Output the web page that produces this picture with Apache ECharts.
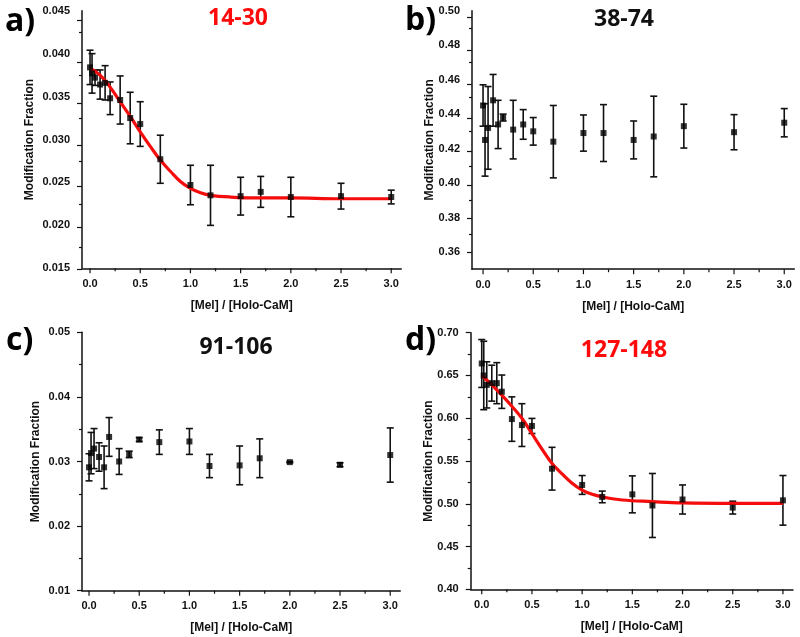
<!DOCTYPE html>
<html>
<head>
<meta charset="utf-8">
<script src="https://cdn.jsdelivr.net/npm/echarts@6/dist/echarts.min.js"></script>
<style>html,body{margin:0;background:#fff}#chart{width:800px;height:637px}</style>
</head>
<body>
<div id="chart"></div>
<script>
// [Mel]/[Holo-CaM] ratios, same for all four peptides
var ratios = [0, 0.02, 0.05, 0.1, 0.15, 0.2, 0.3, 0.4, 0.5, 0.7, 1.0, 1.2, 1.5, 1.7, 2.0, 2.5, 3.0];

// a) 14-30
var fracA = [0.0384, 0.0377, 0.0372, 0.0364, 0.0366, 0.0348, 0.0346, 0.0325, 0.0318, 0.0277, 0.0247, 0.0235, 0.0234, 0.0239, 0.0233, 0.0234, 0.0233];
var errA  = [0.0020, 0.0023, 0.0009, 0.0017, 0.0020, 0.0019, 0.0028, 0.0030, 0.0026, 0.0028, 0.0023, 0.0035, 0.0022, 0.0018, 0.0023, 0.0015, 0.0008];
// b) 38-74
var fracB = [0.445, 0.425, 0.432, 0.448, 0.434, 0.438, 0.431, 0.434, 0.430, 0.424, 0.429, 0.429, 0.425, 0.427, 0.433, 0.4295, 0.435];
var errB  = [0.012, 0.021, 0.024, 0.015, 0.014, 0.002, 0.017, 0.0086, 0.008, 0.021, 0.0105, 0.0165, 0.011, 0.0234, 0.0127, 0.0102, 0.0082];
// c) 91-106
var fracC = [0.0291, 0.0313, 0.0320, 0.0307, 0.0291, 0.0338, 0.0300, 0.0311, 0.0334, 0.0330, 0.0331, 0.0293, 0.0294, 0.0305, 0.0299, 0.0295, 0.0310];
var errC  = [0.0021, 0.0032, 0.0031, 0.0022, 0.0033, 0.0030, 0.0020, 0.0005, 0.0003, 0.0019, 0.0020, 0.0018, 0.0030, 0.0030, 0.0001, 0.0003, 0.0042];
// d) 127-148
var fracD = [0.664, 0.650, 0.639, 0.641, 0.641, 0.631, 0.599, 0.592, 0.591, 0.541, 0.522, 0.508, 0.511, 0.498, 0.505, 0.4955, 0.504];
var errD  = [0.028, 0.040, 0.027, 0.021, 0.024, 0.0195, 0.026, 0.025, 0.0088, 0.025, 0.011, 0.0068, 0.0216, 0.0374, 0.017, 0.0075, 0.029];

// fitted curves
var fitX = [0, 0.1, 0.2, 0.3, 0.4, 0.5, 0.6, 0.7, 0.8, 0.9, 1.0, 1.1, 1.2, 1.4, 1.7, 2.0, 2.5, 3.0];
var fitA = [0.0383, 0.0375, 0.0361, 0.0344, 0.0327, 0.0309, 0.0292, 0.0276, 0.0263, 0.0251, 0.0243, 0.0238, 0.0235, 0.0233, 0.0232, 0.0232, 0.0231, 0.0231];
var fitD = [0.650, 0.639, 0.627, 0.614, 0.600, 0.582, 0.564, 0.547, 0.535, 0.524, 0.516, 0.511, 0.508, 0.5044, 0.5025, 0.501, 0.5005, 0.5005];

// tick labels
var xMajor = [0, 0.5, 1.0, 1.5, 2.0, 2.5, 3.0];
var xMinor = [0.25, 0.75, 1.25, 1.75, 2.25, 2.75];
var yTicksA = [0.015, 0.045, 0.005]; // first, last, step
var yTicksB = [0.36, 0.50, 0.02];
var yTicksC = [0.01, 0.05, 0.01];
var yTicksD = [0.40, 0.70, 0.05];

var PX = 100.4; // pixels per x unit
var panels = [
  {letter: 'a)', title: '14-30', red: true, y: fracA, e: errA, fit: fitA, ymin: 0.015, ymax: 0.045, yt: yTicksA, dec: 3,
   left: 82, top: 10.7, height: 257.6, xmin: -0.08, nameGap: 46, lx: 5, ly: 24, tx: 238, ty: 18},
  {letter: 'b)', title: '38-74', red: false, y: fracB, e: errB, fit: null, ymin: 0.35, ymax: 0.50, yt: yTicksB, dec: 2,
   left: 472, top: 10.7, height: 258.5, xmin: -0.11, nameGap: 36, lx: 405, ly: 23, tx: 624, ty: 19},
  {letter: 'c)', title: '91-106', red: false, y: fracC, e: errC, fit: null, ymin: 0.01, ymax: 0.05, yt: yTicksC, dec: 2,
   left: 82, top: 332.3, height: 258.4, xmin: -0.07, nameGap: 40, lx: 6, ly: 343, tx: 236, ty: 347},
  {letter: 'd)', title: '127-148', red: true, y: fracD, e: errD, fit: fitD, ymin: 0.40, ymax: 0.70, yt: yTicksD, dec: 2,
   left: 470.7, top: 332.7, height: 256.6, xmin: -0.11, nameGap: 36, lx: 405, ly: 343, tx: 624, ty: 350}
];

var ink = '#111';
var fam = 'Liberation Sans';
var grids = [], xAxes = [], yAxes = [], series = [], graphics = [];

function labelAxis(gi, lo, hi, step, dec) {
  return {
    type: 'value', gridIndex: gi, position: 'left', min: lo, max: hi, interval: step,
    axisLine: {show: false}, axisTick: {show: false}, splitLine: {show: false},
    axisLabel: {show: true, margin: 7, fontFamily: fam, fontWeight: 'bold', fontSize: 11, color: ink,
                formatter: function (v) { return v.toFixed(dec); }}
  };
}
// y tick marks: minor split lines of a thin strip left of the axis
function yTickAxis(gi, lo, hi, step) {
  return {
    type: 'value', gridIndex: gi, position: 'left', min: lo, max: hi, interval: step,
    axisLine: {show: false}, axisTick: {show: false}, axisLabel: {show: false}, splitLine: {show: false},
    minorTick: {show: false, splitNumber: 2},
    minorSplitLine: {show: true, lineStyle: {color: ink, width: 1.2}}
  };
}
function plainAxis(gi, lo, hi) {
  return {type: 'value', gridIndex: gi, min: lo, max: hi, show: false};
}
// x tick marks hanging under the axis line, placed through the x scale
function xTickSeries(gi, values, ymin, len) {
  return {
    type: 'custom', xAxisIndex: gi, yAxisIndex: gi, silent: true, clip: false, z: 1,
    data: values.map(function (v) { return [v, ymin]; }),
    encode: {x: 0, y: 1},
    renderItem: function (params, api) {
      var c = api.coord([api.value(0), api.value(1)]);
      return {type: 'line', shape: {x1: c[0], y1: c[1], x2: c[0], y2: c[1] + len},
              style: {stroke: ink, lineWidth: 1.2}};
    }
  };
}

panels.forEach(function (p, i) {
  var width = (3.1 - p.xmin) * PX;
  var yScale = p.height / (p.ymax - p.ymin);
  var yTop = p.top + (p.ymax - p.yt[1]) * yScale;
  var yh = (p.yt[1] - p.yt[0]) * yScale;
  var ys = p.yt[2] / 2 * yScale;
  var g = grids.length;

  grids.push({left: p.left, top: p.top, width: width, height: p.height});  // plot
  grids.push({left: p.left - 5, top: yTop, width: 5, height: yh});         // y labels
  grids.push({left: p.left - 5, top: yTop - ys, width: 5, height: yh + 2 * ys}); // y major ticks
  grids.push({left: p.left - 3, top: yTop, width: 3, height: yh});         // y minor ticks

  xAxes.push({
    type: 'value', gridIndex: g, position: 'bottom', min: p.xmin, max: 3.1,
    name: '[Mel] / [Holo-CaM]', nameLocation: 'middle', nameGap: 31,
    nameTextStyle: {fontFamily: fam, fontWeight: 'bold', fontSize: 12, color: ink},
    axisLine: {onZero: false, lineStyle: {color: ink, width: 1.5}},
    axisTick: {show: false}, splitLine: {show: false},
    axisLabel: {customValues: xMajor, margin: 10, fontFamily: fam, fontWeight: 'bold', fontSize: 11, color: ink,
                formatter: function (v) { return v.toFixed(1); }}
  });
  for (var k = 1; k < 4; k++) xAxes.push(plainAxis(g + k, 0, 1));

  yAxes.push({
    type: 'value', gridIndex: g, position: 'left', min: p.ymin, max: p.ymax,
    name: 'Modification Fraction', nameLocation: 'middle', nameGap: p.nameGap,
    nameTextStyle: {fontFamily: fam, fontWeight: 'bold', fontSize: 12, color: ink},
    axisLine: {onZero: false, lineStyle: {color: ink, width: 1.5}},
    axisTick: {show: false}, axisLabel: {show: false}, splitLine: {show: false}
  });
  yAxes.push(labelAxis(g + 1, p.yt[0], p.yt[1], p.yt[2], p.dec));
  yAxes.push(yTickAxis(g + 2, p.yt[0] - p.yt[2] / 2, p.yt[1] + p.yt[2] / 2, p.yt[2]));
  yAxes.push(yTickAxis(g + 3, p.yt[0], p.yt[1], p.yt[2]));

  series.push(xTickSeries(g, xMajor, p.ymin, 5));
  series.push(xTickSeries(g, xMinor, p.ymin, 3));

  // error bars
  series.push({
    type: 'custom', xAxisIndex: g, yAxisIndex: g, z: 2,
    data: ratios.map(function (x, k) { return [x, p.y[k] - p.e[k], p.y[k] + p.e[k]]; }),
    encode: {x: 0, y: [1, 2]},
    renderItem: function (params, api) {
      var lo = api.coord([api.value(0), api.value(1)]);
      var hi = api.coord([api.value(0), api.value(2)]);
      var w = 3.5, st = {stroke: ink, lineWidth: 1.6};
      return {type: 'group', children: [
        {type: 'line', shape: {x1: lo[0], y1: lo[1], x2: hi[0], y2: hi[1]}, style: st},
        {type: 'line', shape: {x1: lo[0] - w, y1: lo[1], x2: lo[0] + w, y2: lo[1]}, style: st},
        {type: 'line', shape: {x1: hi[0] - w, y1: hi[1], x2: hi[0] + w, y2: hi[1]}, style: st}
      ]};
    }
  });

  if (p.fit) {
    series.push({
      type: 'line', xAxisIndex: g, yAxisIndex: g, z: 3,
      data: fitX.map(function (x, k) { return [x, p.fit[k]]; }),
      smooth: 0.4, showSymbol: false,
      lineStyle: {color: '#f50c0c', width: 3.2}
    });
  }

  series.push({
    type: 'scatter', xAxisIndex: g, yAxisIndex: g, z: 4,
    data: ratios.map(function (x, k) { return [x, p.y[k]]; }),
    symbol: 'rect', symbolSize: 6,
    itemStyle: {color: '#000'}
  });

  graphics.push({
    type: 'text', left: p.lx, top: p.ly - 18,
    style: {text: p.letter, font: 'bold 32px "Open Sans"', fill: '#000'}
  });
  graphics.push({
    type: 'text', x: p.tx, y: p.ty,
    style: {text: p.title, font: 'bold 23px "Open Sans"', fill: p.red ? '#ff0a0a' : '#111',
            textAlign: 'center', textVerticalAlign: 'middle'}
  });
});

var chart = echarts.init(document.getElementById('chart'));
chart.setOption({
  backgroundColor: '#fff',
  animation: false,
  grid: grids,
  xAxis: xAxes,
  yAxis: yAxes,
  series: series,
  graphic: graphics
});
</script>
</body>
</html>
